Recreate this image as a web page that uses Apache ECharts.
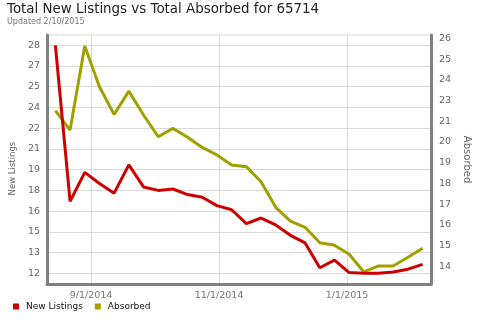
<!DOCTYPE html>
<html><head><meta charset="utf-8">
<script src="https://cdn.jsdelivr.net/npm/echarts@6/dist/echarts.min.js"></script>
<style>html,body{margin:0;padding:0;background:#fff}#c{width:480px;height:320px}</style>
</head><body><div id="c"></div>
<script>
const titleText = 'Total New Listings vs Total Absorbed for 65714';
const subtitleText = 'Updated 2/10/2015';
const seriesNames = ['New Listings', 'Absorbed'];
const dates = ['2014-08-15','2014-08-22','2014-08-29','2014-09-05','2014-09-12','2014-09-19','2014-09-26',
  '2014-10-03','2014-10-10','2014-10-17','2014-10-24','2014-10-31','2014-11-07','2014-11-14','2014-11-21',
  '2014-11-28','2014-12-05','2014-12-12','2014-12-19','2014-12-26','2015-01-02','2015-01-09','2015-01-16',
  '2015-01-23','2015-01-30','2015-02-06'];
const newListings = [28.5, 17.2, 19.3, 18.5, 17.8, 19.85, 18.25, 18.0, 18.1, 17.7, 17.5, 16.9, 16.6,
  15.6, 16.0, 15.5, 14.75, 14.2, 12.4, 12.95, 12.05, 12.0, 12.0, 12.1, 12.3, 12.65];
const absorbed = [22.83, 21.8, 26.26, 24.1, 22.63, 23.87, 22.6, 21.45, 21.89, 21.42, 20.88, 20.48, 19.95,
  19.86, 19.06, 17.7, 16.97, 16.64, 15.82, 15.69, 15.21, 14.27, 14.59, 14.59, 15.05, 15.53];
const leftTickValues = [12, 13.5, 15, 16.5, 18, 19.5, 21, 22.5, 24, 25.5, 27, 28.5];
const leftTickLabels = ['12','13','15','16','18','19','21','22','24','25','27','28'];
const rightTickValues = [14.2, 15.3, 16.4, 17.5, 18.6, 19.7, 20.8, 21.9, 23.0, 24.1, 25.2, 26.3];
const rightTickLabels = ['14','15','16','17','18','19','20','21','23','24','25','26'];
const xTickDates = ['2014-09-01','2014-11-01','2015-01-01'];
const xTickLabels = ['9/1/2014','11/1/2014','1/1/2015'];
const xRange = ['2014-08-11','2015-02-10'];

const ts = s => { const p = s.split('-').map(Number); return Date.UTC(p[0], p[1]-1, p[2]) / 86400000; };
const xTickValues = xTickDates.map(ts);
const pick = (vals, labels) => v => { let best = 0, bd = Infinity; vals.forEach((x, i) => { const d = Math.abs(x - v); if (d < bd) { bd = d; best = i; } }); return labels[best]; };

const FONT = 'DejaVu Sans';
const GRID = '#d9d9d9';
const AXIS = '#808080';

const chart = echarts.init(document.getElementById('c'), null, {renderer: 'canvas'});
chart.setOption({
  animation: false,
  textStyle: {fontFamily: FONT},
  title: {
    text: titleText, subtext: subtitleText, left: 7, top: 3, padding: 0, itemGap: 2,
    textStyle: {fontSize: 13.4, fontWeight: 'normal', color: '#222', fontFamily: FONT},
    subtextStyle: {fontSize: 8, color: '#777', fontFamily: FONT}
  },
  legend: {
    data: seriesNames, left: 8, top: 297, icon: 'rect', itemWidth: 6, itemHeight: 6, itemGap: 12,
    textStyle: {fontSize: 9, color: '#111', fontFamily: FONT, padding: [0, 0, 0, 2]}
  },
  grid: {left: 45.3, right: 45.3, top: 35, bottom: 35.8, show: true, borderColor: GRID, borderWidth: 1, containLabel: false},
  xAxis: {
    type: 'value', min: ts(xRange[0]), max: ts(xRange[1]),
    axisLine: {show: true, onZero: false, lineStyle: {color: AXIS, width: 3}},
    axisTick: {show: false, customValues: xTickValues},
    axisLabel: {customValues: xTickValues, formatter: pick(xTickValues, xTickLabels), color: '#777', fontSize: 9.5, margin: 6, fontFamily: FONT},
    splitLine: {show: true, lineStyle: {color: GRID, width: 1}}
  },
  yAxis: [{
    type: 'value', position: 'left', min: 11.211, max: 29.245,
    axisLine: {show: true, lineStyle: {color: AXIS, width: 3}},
    axisTick: {show: false, customValues: leftTickValues},
    axisLabel: {customValues: leftTickValues, formatter: pick(leftTickValues, leftTickLabels), color: '#666', fontSize: 9.5, margin: 7, fontFamily: FONT},
    splitLine: {show: true, lineStyle: {color: GRID, width: 1}},
    name: seriesNames[0], nameLocation: 'middle', nameGap: 27,
    nameTextStyle: {fontSize: 8.5, color: '#666', fontFamily: FONT, padding: [0, 18, 0, 0]}
  }, {
    type: 'value', position: 'right', min: 13.621, max: 26.847,
    axisLine: {show: true, lineStyle: {color: AXIS, width: 3}},
    axisTick: {show: false, customValues: rightTickValues},
    axisLabel: {customValues: rightTickValues, formatter: pick(rightTickValues, rightTickLabels), color: '#666', fontSize: 9.5, margin: 8, verticalAlign: 'bottom', padding: [0, 0, 2, 0], fontFamily: FONT},
    splitLine: {show: false},
    name: seriesNames[1], nameLocation: 'middle', nameGap: 27, nameRotate: -90,
    nameTextStyle: {fontSize: 10, color: '#666', fontFamily: FONT}
  }],
  series: [{
    name: seriesNames[0], type: 'line', yAxisIndex: 0, showSymbol: false, z: 3,
    data: dates.map((d, i) => [ts(d), newListings[i]]),
    itemStyle: {color: '#cc0000'}, lineStyle: {color: '#cc0000', width: 3}
  }, {
    name: seriesNames[1], type: 'line', yAxisIndex: 1, showSymbol: false, z: 2,
    data: dates.map((d, i) => [ts(d), absorbed[i]]),
    itemStyle: {color: '#a0a000'}, lineStyle: {color: '#a0a000', width: 3}
  }]
});
</script></body></html>
